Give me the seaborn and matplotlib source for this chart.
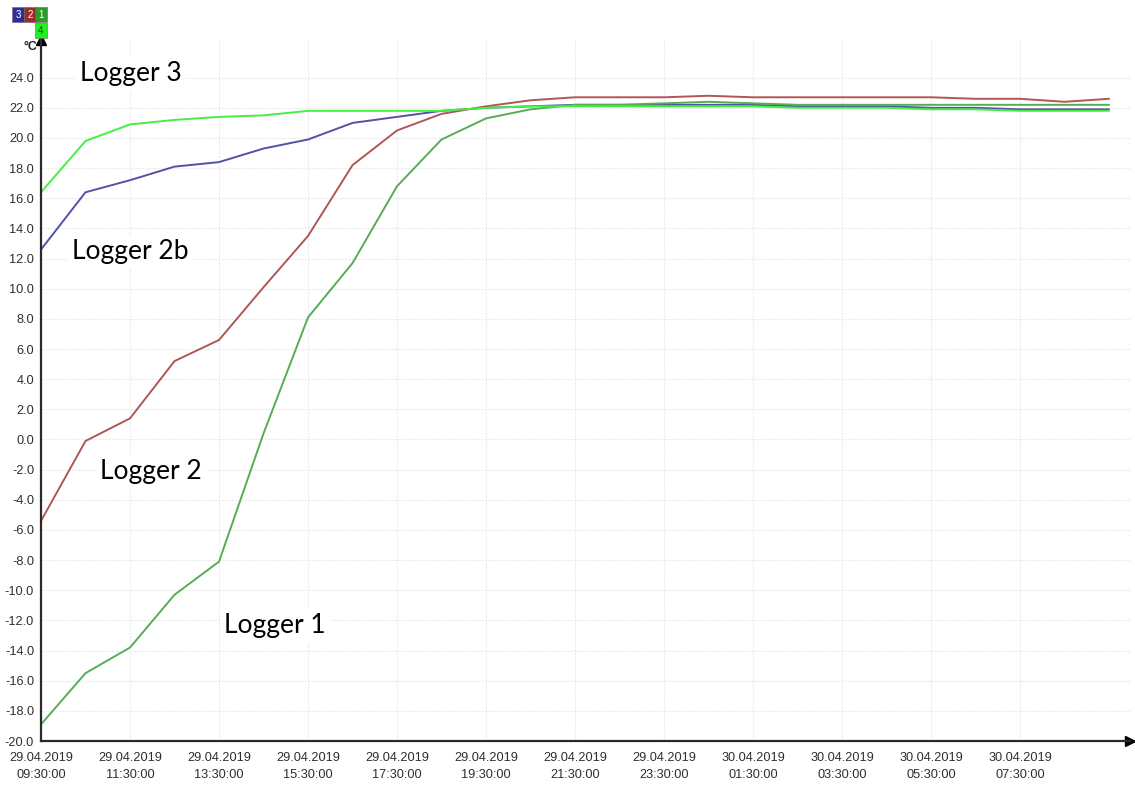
import matplotlib
matplotlib.use("Agg")
import matplotlib.pyplot as plt
import matplotlib.dates as mdates
from matplotlib.patches import Rectangle
import numpy as np
import pandas as pd
import seaborn as sns

# Hourly readings, 29.04.2019 09:30 to 30.04.2019 09:30
times = pd.date_range("2019-04-29 09:30:00", periods=25, freq="h")

logger_1 = [-18.9, -15.5, -13.8, -10.3, -8.1, 0.4, 8.1, 11.7, 16.8, 19.9, 21.3, 21.9,
            22.2, 22.2, 22.3, 22.4, 22.3, 22.2, 22.2, 22.2, 22.2, 22.2, 22.2, 22.2, 22.2]
logger_2 = [-5.4, -0.1, 1.4, 5.2, 6.6, 10.1, 13.5, 18.2, 20.5, 21.6, 22.1, 22.5,
            22.7, 22.7, 22.7, 22.8, 22.7, 22.7, 22.7, 22.7, 22.7, 22.6, 22.6, 22.4, 22.6]
logger_2b = [12.6, 16.4, 17.2, 18.1, 18.4, 19.3, 19.9, 21.0, 21.4, 21.8, 22.0, 22.1,
             22.2, 22.2, 22.2, 22.2, 22.2, 22.1, 22.1, 22.1, 22.0, 22.0, 21.9, 21.9, 21.9]
logger_3 = [16.4, 19.8, 20.9, 21.2, 21.4, 21.5, 21.8, 21.8, 21.8, 21.8, 22.0, 22.1,
            22.1, 22.1, 22.1, 22.1, 22.1, 22.0, 22.0, 22.0, 21.9, 21.9, 21.8, 21.8, 21.8]

series_names = ["Logger 2b", "Logger 2", "Logger 1", "Logger 3"]
series_values = [logger_2b, logger_2, logger_1, logger_3]
line_colors = {"Logger 1": "#55ad55", "Logger 2": "#b05656",
               "Logger 2b": "#5252a6", "Logger 3": "#44f044"}

y_ticks = np.arange(-20, 25, 2)
x_ticks = pd.date_range("2019-04-29 09:30:00", periods=12, freq="2h")

df = pd.concat(
    [pd.DataFrame({"time": times, "temp": vals, "logger": name})
     for name, vals in zip(series_names, series_values)],
    ignore_index=True,
)

sns.set_theme(style="white")
plt.rcParams["font.family"] = ["Liberation Sans", "DejaVu Sans"]

W, H = 1135, 787
fig = plt.figure(figsize=(W / 100, H / 100), dpi=100)

def fx(px):
    return px / W

def fy(py):
    return 1 - py / H

ax_l, ax_r, ax_b, ax_t = 41, 1130, 741, 40
ax = fig.add_axes([fx(ax_l), fy(ax_b), fx(ax_r - ax_l), (ax_b - ax_t) / H])

sns.lineplot(data=df, x="time", y="temp", hue="logger", hue_order=series_names,
             palette=line_colors, linewidth=1.4, legend=False, ax=ax)

ax.set_ylim(-20, 26.5)
ax.set_xlim(times[0], times[0] + pd.Timedelta(hours=24.47))
ax.set_yticks(y_ticks)
ax.yaxis.set_major_formatter(matplotlib.ticker.FormatStrFormatter("%.1f"))
ax.set_xticks(x_ticks)
ax.xaxis.set_major_formatter(mdates.DateFormatter("%d.%m.%Y\n%H:%M:%S"))
ax.tick_params(axis="both", length=0, labelsize=9.2, labelcolor="#2e2e2e")
ax.tick_params(axis="y", pad=5)
ax.tick_params(axis="x", pad=8)
for lab in ax.get_xticklabels():
    lab.set_linespacing(1.5)
ax.set_xlabel("")
ax.set_ylabel("")

ax.grid(True, color="#ebebeb", linestyle=(0, (2, 1)), linewidth=0.8)
ax.set_axisbelow(True)

for side in ("top", "right"):
    ax.spines[side].set_visible(False)
for side in ("left", "bottom"):
    ax.spines[side].set_color("#2a2a2a")
    ax.spines[side].set_linewidth(1.6)

# Arrow heads on the axes
ax.plot(1.0, 0, marker=">", color="black", markersize=7,
        transform=ax.transAxes, clip_on=False)
ax.plot(0, 1.0, marker="^", color="black", markersize=7,
        transform=ax.transAxes, clip_on=False)

fig.text(fx(30), fy(47), "°C", ha="center", va="center", fontsize=9,
         color="#222222", fontweight="bold")

# Channel badges
badges = [("3", 12, 7, "#2d2d9c", "white"), ("2", 24, 7, "#9c2b2b", "white"),
          ("1", 35, 7, "#2b9a2b", "white"), ("4", 35, 23, "#22ee22", "#115511")]
for label, bx, by, bc, tc in badges:
    fig.patches.append(Rectangle((fx(bx), fy(by + 15)), fx(12), 15 / H,
                                 transform=fig.transFigure, facecolor=bc,
                                 edgecolor="#666666", linewidth=0.4))
    fig.text(fx(bx + 6), fy(by + 7.5), label, ha="center", va="center",
             fontsize=7, color=tc)

# Series labels
label_font = ["Lato", "DejaVu Sans"]
labels = [("Logger 3", 80, 74), ("Logger 2b", 72, 252),
          ("Logger 2", 100, 472), ("Logger 1", 224, 625)]
for text, lx, ly in labels:
    ax.text((lx - ax_l) / (ax_r - ax_l), (ax_b - ly) / (ax_b - ax_t), text,
            transform=ax.transAxes, ha="left", va="center", fontsize=19,
            family=label_font, color="black",
            bbox=dict(facecolor="white", edgecolor="none", pad=3))

fig.savefig("out.png", dpi=100)
